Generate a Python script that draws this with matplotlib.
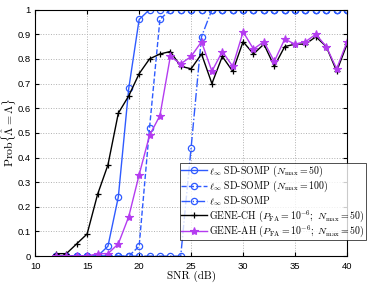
import matplotlib
matplotlib.use("Agg")
import matplotlib.pyplot as plt
import numpy as np

snr = list(range(12, 41))

somp_50 = [0, 0, 0, 0, 0, 0.04, 0.24, 0.68, 0.96] + [1] * 20
somp_100 = [0] * 8 + [0.04, 0.52, 0.96] + [1] * 18
somp_inf = [0] * 13 + [0.44, 0.89] + [1] * 14
gene_ch = [0.01, 0.01, 0.05, 0.09, 0.25, 0.37, 0.58, 0.65, 0.74, 0.80, 0.82, 0.83,
           0.77, 0.76, 0.82, 0.70, 0.81, 0.75, 0.87, 0.82, 0.86, 0.77, 0.85, 0.86,
           0.86, 0.89, 0.85, 0.75, 0.86]
gene_ah = [0, 0, 0, 0, 0.01, 0.01, 0.05, 0.16, 0.33, 0.49, 0.57, 0.81,
           0.78, 0.81, 0.87, 0.75, 0.83, 0.77, 0.91, 0.84, 0.87, 0.79, 0.88, 0.86,
           0.87, 0.90, 0.85, 0.76, 0.87]

blue = '#2f5bff'
purple = '#b43cf0'

plt.rcParams['mathtext.fontset'] = 'cm'
plt.rcParams['font.size'] = 7

fig = plt.figure(figsize=(3.74, 2.83), dpi=100)
ax = fig.add_axes([0.094, 0.095, 0.834, 0.871])

ms = 4.5
ax.plot(snr, somp_50, '-o', color=blue, lw=1, markersize=ms, mfc='none', mew=0.9,
        label=r'$\ell_\infty$ SD-SOMP ($N_{\max}=50$)')
ax.plot(snr, somp_100, '--o', color=blue, lw=1, markersize=ms, mfc='none', mew=0.9,
        label=r'$\ell_\infty$ SD-SOMP ($N_{\max}=100$)')
ax.plot(snr, somp_inf, '-.o', color=blue, lw=1, markersize=ms, mfc='none', mew=0.9,
        label=r'$\ell_\infty$ SD-SOMP')
ax.plot(snr, gene_ch, '-+', color='black', lw=1, markersize=5, mew=0.9,
        label=r'GENE-CH ($P_{\rm FA}=10^{-6};\ N_{\max}=50$)')
ax.plot(snr, gene_ah, '-*', color=purple, lw=1, markersize=6, mew=0.8,
        label=r'GENE-AH ($P_{\rm FA}=10^{-6};\ N_{\max}=50$)')

ax.set_xlim(10, 40)
ax.set_ylim(0, 1)
ax.set_xticks(range(10, 41, 5))
ax.set_yticks(np.arange(0, 1.01, 0.1))
ax.set_yticklabels(['0', '0.1', '0.2', '0.3', '0.4', '0.5', '0.6', '0.7', '0.8', '0.9', '1'])
ax.tick_params(direction='in', top=True, right=True, labelsize=6.8, length=3)
ax.tick_params(axis='x', pad=4)
ax.tick_params(axis='y', pad=3)
for lab in ax.get_xticklabels() + ax.get_yticklabels():
    lab.set_family('Liberation Sans')
ax.grid(True, linestyle=':', color='#b0b0b0', lw=0.7)
for s in ax.spines.values():
    s.set_linewidth(0.8)

ax.set_xlabel('SNR (dB)', family='cmr10', fontsize=8, labelpad=0)
ax.set_ylabel(r'$\mathrm{Prob}\{\hat{\Lambda}=\Lambda\}$', fontsize=8.5, labelpad=0)

leg = ax.legend(loc='upper left', bbox_to_anchor=(0.481, 0.425), bbox_transform=fig.transFigure,
                prop={'family': 'cmr10', 'size': 7.1}, frameon=True, fancybox=False,
                edgecolor='black', borderpad=0.1, labelspacing=0.0, handlelength=2.6,
                handletextpad=0.3, borderaxespad=0)
leg.get_frame().set_linewidth(0.6)

fig.savefig('out.png', dpi=100)
